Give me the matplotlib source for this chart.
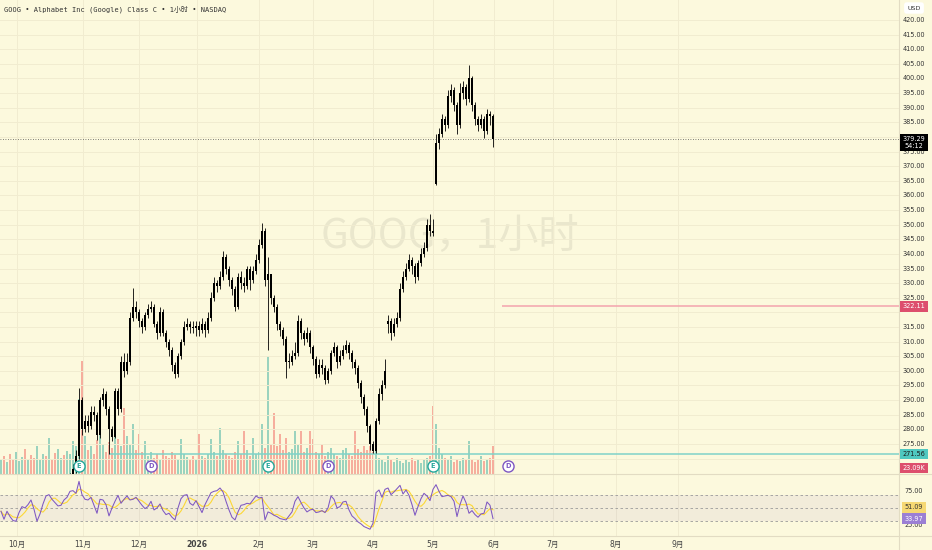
import numpy as np
import pandas as pd
import matplotlib
matplotlib.use("Agg")
import matplotlib.pyplot as plt
import matplotlib.transforms as mtransforms
from matplotlib.lines import Line2D

plt.rcParams['font.family'] = ['DejaVu Sans', 'Noto Sans CJK SC']

# GOOG 1h chart, resampled to ~one candle per trading day
closes = [
    246, 244, 247, 245, 243, 246, 249, 252, 250, 253,
    251, 248, 250, 253, 256, 252, 255, 254, 251, 255,
    259, 257, 260, 263, 266.5, 271, 290, 280, 283, 281,
    286, 285, 278, 290, 292, 287, 280, 277.5, 293, 287,
    303, 300, 303, 318, 322, 320, 317, 315, 319, 321,
    322, 316, 313, 320, 313, 310, 307, 302, 299, 305,
    310, 315, 316, 315, 314.5, 315.5, 314, 316, 314, 318,
    325, 330, 329, 332, 339, 335, 331, 328, 322, 332,
    330, 329, 335, 331, 334, 338, 343, 348, 331, 333,
    325, 322, 316, 314, 311, 303, 303, 305, 306, 317,
    313, 311, 313, 308, 304, 299, 302, 301, 297, 300,
    306, 308, 303, 305, 307, 309, 306, 303, 301, 296,
    291, 287, 281, 275, 272.5, 283, 292, 295, 300, 317,
    313, 316, 318, 328, 332, 335, 338, 336, 332, 337,
    340, 342, 350, 348, 347, 378, 381, 386, 384, 394,
    396, 391, 384, 395, 397, 393, 400, 391, 386, 384,
    386, 382, 388, 387, 379.29]

highs = [
    248, 247, 249, 248, 246, 247, 250, 253, 253, 255,
    254, 252, 251, 254, 257, 257, 256, 257, 255, 256,
    260, 261, 262, 265, 268, 273, 294, 291, 285, 285,
    288, 288, 286, 291, 294, 293, 288, 281, 294, 294,
    305, 306, 306, 320, 328.5, 324, 321, 318, 320, 323,
    324, 323, 317, 322, 321, 314, 311, 308, 303, 306,
    311, 317, 318, 317, 317, 317, 317, 318, 317, 320,
    327, 332, 331, 334, 341, 340, 336, 332, 329, 333.5,
    334, 332, 336, 336, 336, 340, 345, 350.5, 349, 339,
    329, 326, 323, 317, 315, 312, 306, 307, 310, 319,
    318, 314, 315, 314, 309, 305, 304, 304, 302, 301,
    307, 310, 309, 307, 309, 310.5, 310, 307, 304, 302,
    297, 292, 288, 282, 276, 284, 294, 297, 304, 319,
    318, 318, 320, 330, 334, 337, 340, 339, 337, 338,
    342, 344, 352, 353.5, 352, 381, 383, 388, 387, 396,
    398, 397, 392, 398.5, 399, 398, 404.5, 401, 392, 387,
    388, 387, 389.5, 389, 388]

lows = [
    244, 242, 243, 244, 241, 242, 245, 248, 249, 249,
    250, 247, 246, 249, 252, 251, 251, 253, 250, 250,
    254, 256, 256, 259, 262, 265, 270, 278, 279, 279,
    280, 283, 276.5, 277, 288, 285, 271.56, 276, 277, 285,
    286, 298, 299, 302, 317, 318, 315, 313, 314, 318,
    320, 315, 311, 312, 312, 308, 305, 300, 297.5, 298,
    304, 309, 314, 313, 313, 312, 312, 313, 311.5, 313,
    317, 324, 327, 328, 331, 333, 329, 326, 320.5, 321,
    328, 327, 328, 327.5, 330, 333, 337, 342, 329, 307,
    323, 320, 314, 312, 309, 297.5, 301, 302, 304, 305,
    311, 309, 310, 306, 302, 297.5, 298, 299, 295.5, 296,
    299, 305, 301, 302, 304, 306, 304, 301, 299, 294,
    289, 285, 279, 273, 271.8, 272, 282, 290, 294, 313,
    310.5, 312, 315, 317, 327, 331, 334, 333, 330, 331,
    336, 339, 341, 346, 346, 363.5, 376, 380, 382, 383,
    392, 389, 381, 383, 393, 391, 392, 389, 384, 382,
    383, 379.5, 381, 384, 376.6]

# opening gaps (otherwise a candle opens at the previous close)
gap_opens = {129: 316, 145: 364}

volumes_k = [
    1400, 1800, 1200, 2000, 1500, 2200, 1300, 1700, 2500, 1400,
    1900, 1600, 2800, 1400, 2000, 1800, 3600, 1500, 2100, 2500,
    1600, 1900, 2300, 2000, 3300, 2800, 7500, 11300, 3800, 2400,
    2800, 2000, 3400, 4000, 3000, 2200, 3200, 2600, 4300, 3500,
    2800, 6600, 3800, 3000, 5000, 2400, 4000, 2200, 3300, 1800,
    2200, 1600, 2000, 1400, 2400, 1800, 1600, 2200, 1900, 1500,
    3500, 2000, 1700, 1500, 1800, 1400, 4000, 1800, 1600, 2000,
    3500, 2200, 1800, 4600, 2400, 2000, 1800, 1600, 2200, 3300,
    2000, 4300, 2400, 1800, 3600, 2000, 2200, 5000, 2600, 11800,
    3000, 6100, 2800, 4000, 2400, 3600, 2200, 2500, 4300, 3000,
    4300, 2200, 2600, 4300, 3500, 2200, 2000, 3000, 1800, 2200,
    2600, 2000, 1800, 1600, 2400, 2600, 2000, 1800, 4300, 2500,
    2200, 2800, 2400, 2800, 2200, 2600, 1600, 1400, 1200, 1800,
    1400, 1200, 1600, 1300, 1100, 1400, 1200, 1600, 1300, 1500,
    1100, 1400, 1600, 1800, 6800, 5000, 2600, 2000, 1600, 1400,
    1800, 1200, 1500, 1300, 1600, 1400, 3300, 1500, 1200, 1400,
    1800, 1300, 1500, 1600, 2800]

rsi = [
    45, 33, 45, 37, 31, 30, 43, 52, 50, 55,
    62, 48, 30, 41, 56, 68, 70, 63, 58, 53,
    54, 62, 66, 75, 76, 72, 90, 70, 63, 62,
    66, 54, 42, 63, 62, 55, 38, 50, 60, 69,
    57, 63, 68, 62, 63, 66, 60, 54, 49, 52,
    60, 47, 50, 56, 46, 40, 42, 36, 32, 50,
    64, 69, 70, 57, 54, 61, 52, 43, 55, 64,
    73, 75, 76, 80, 74, 60, 47, 36, 32, 44,
    54, 55, 57, 56, 62, 68, 65, 66, 32, 44,
    42, 39, 37, 34, 33, 32, 38, 44, 60, 67,
    58, 50, 44, 47, 48, 43, 44, 46, 43, 50,
    68, 63, 50, 52, 59, 60, 47, 38, 34, 29,
    26, 22, 20, 18, 27, 73, 77, 66, 78, 80,
    70, 74, 79, 84, 71, 77, 69, 55, 39, 52,
    64, 72, 68, 61, 78, 85, 75, 67, 68, 69,
    67, 60, 37, 55, 68, 58, 42, 46, 40, 36,
    41, 42, 59, 54, 33.97]
rsi_ma_last = 51.09

month_labels = ['10月', '11月', '12月', '2026', '2月', '3月', '4月', '5月', '6月', '7月', '8月', '9月']
month_pos = [5.3, 27.3, 46, 65.3, 86, 104, 124, 144, 164.3, 184, 205, 225.7]

earnings_bars = [26, 89, 144]
dividend_bars = [50, 109, 169]

resist_level, resist_from = 322.11, 167
support_level, support_from = 271.56, 36
last_volume_label = '23.09K'
countdown = '54:12'

BG = '#fcf9dd'
GRID = '#f1ecd0'
EDGE = '#e2dcc3'
UP = '#26a69a'
DOWN = '#ef5350'
PURPLE = '#7e57c2'

W, H = 932, 550


def rect(x0, y0, x1, y1):
    return [x0 / W, 1 - y1 / H, (x1 - x0) / W, (y1 - y0) / H]


fig = plt.figure(figsize=(W / 100, H / 100), dpi=100, facecolor=BG)
vax = fig.add_axes(rect(0, 0, 899, 473.5))
ax = fig.add_axes(rect(0, 0, 899, 473.5), sharex=vax)
rax = fig.add_axes(rect(0, 474.5, 899, 536), sharex=vax)
ax.set_zorder(2)
ax.patch.set_visible(False)
vax.set_facecolor(BG)
rax.set_facecolor(BG)

n = len(closes)
x = np.arange(n)
c = np.array(closes, dtype=float)
o = np.r_[c[0], c[:-1]]
for k, v in gap_opens.items():
    o[k] = v
up = c >= o

# volume
vax.bar(x, volumes_k, width=0.6, color=np.where(up, UP, DOWN), alpha=0.45, linewidth=0)
vax.set_ylim(0, 47350)

# candles
ax.vlines(x, lows, highs, color='black', lw=0.6, zorder=3)
ax.bar(x, np.maximum(np.abs(c - o), 0.4), bottom=np.minimum(o, c), width=0.5,
       color='black', linewidth=0, zorder=3)

ax.set_xlim(-1 / 3, 899 / 3 - 1 / 3)
ax.set_ylim(264.9, 426.84)
price_ticks = np.arange(270, 421, 5)
ax.set_yticks(price_ticks)
ax.set_xticks(month_pos)
ax.grid(True, color=GRID, lw=0.7, zorder=0)
ax.set_axisbelow(True)
for a in (ax, vax, rax):
    a.tick_params(left=False, right=False, top=False, bottom=False,
                  labelleft=False, labelbottom=False)
    for s in a.spines.values():
        s.set_visible(False)

# watermark and title
ax.text(450 / 899, 1 - 236 / 473.5, 'GOOG，1小时', transform=ax.transAxes,
        fontsize=29, family=['Noto Sans CJK SC'], color='black', alpha=0.07,
        ha='center', va='center', zorder=0)
ax.text(4 / 899, 1 - 9 / 473.5, 'GOOG • Alphabet Inc (Google) Class C • 1小时 • NASDAQ',
        transform=ax.transAxes, fontsize=5, family=['DejaVu Sans Mono', 'Noto Sans CJK SC'],
        color='#333333', va='center')

# horizontal levels
ax.axhline(c[-1], color='#555555', lw=0.6, ls=(0, (1, 2)), zorder=2)
ax.hlines(resist_level, resist_from, 300, color='#f4a3ae', lw=1.1, zorder=2)
ax.hlines(support_level, support_from, 300, color='#7fd3c9', lw=1.1, zorder=2)

# earnings / dividend badges
bt = mtransforms.blended_transform_factory(ax.transData, ax.transAxes)
by = 1 - 466 / 473.5
for b in earnings_bars:
    ax.plot(b, by, 'o', transform=bt, ms=8, mfc='white', mec=UP, mew=1, zorder=6, clip_on=False)
    ax.text(b, by, 'E', transform=bt, fontsize=4.8, color=UP, weight='bold',
            ha='center', va='center', zorder=7)
for b in dividend_bars:
    ax.plot(b, by, 'o', transform=bt, ms=8, mfc='white', mec=PURPLE, mew=1, zorder=6, clip_on=False)
    ax.text(b, by, 'D', transform=bt, fontsize=4.8, color=PURPLE, weight='bold',
            ha='center', va='center', zorder=7)

# right price scale (labels hidden behind the tags are skipped)
tr = mtransforms.blended_transform_factory(ax.transAxes, ax.transData)
lx = 914 / 899
tagged = [c[-1], resist_level, support_level]
for p in price_ticks:
    if min(abs(p - t) for t in tagged) < 2.5:
        continue
    ax.text(lx, p, f'{p:.2f}', transform=tr, ha='center', va='center',
            fontsize=4.7, color='#333333', zorder=3)
ax.text(lx, 1 - 8 / 473.5, 'USD', transform=ax.transAxes, ha='center', va='center',
        fontsize=4.6, color='#333333', zorder=5,
        bbox=dict(boxstyle='round,pad=0.5,rounding_size=0.4', fc='white', ec='none'))


def tag(a, y, text, fc, tc, trans, dy=0):
    a.annotate(text, xy=(lx, y), xycoords=trans, xytext=(0, dy), textcoords='offset points',
               ha='center', va='center', fontsize=4.7, color=tc, zorder=8,
               linespacing=1.15, annotation_clip=False,
               bbox=dict(boxstyle='square,pad=0.35', fc=fc, ec='none'))


tag(ax, c[-1], f'{c[-1]:.2f}\n{countdown}', 'black', 'white', tr, dy=-2.6)
tag(ax, resist_level, f'{resist_level:.2f}', '#dd4f6d', 'white', tr)
tag(ax, support_level, f'{support_level:.2f}', '#4fc8c0', '#1b1b1b', tr)
tag(ax, 1 - 468 / 473.5, last_volume_label, '#dd4f6d', 'white', ax.transAxes)

# RSI pane
rsi_arr = np.array(rsi, dtype=float)
rsi_ma = pd.Series(rsi_arr).rolling(4, min_periods=1).mean()
rax.set_ylim(7.8, 100.3)
rax.axhspan(30, 70, color=PURPLE, alpha=0.08, lw=0)
for lvl in (70, 50, 30):
    rax.axhline(lvl, color='#9a9a9a', lw=0.6, ls=(0, (3, 3)))
rax.plot(x, rsi_ma, color='#fdd835', lw=0.8)
rax.plot(x, rsi_arr, color=PURPLE, lw=0.75)
rax.grid(True, axis='x', color=GRID, lw=0.7)
rax.set_axisbelow(True)
rax.tick_params(labelbottom=True, length=0, pad=3, labelsize=5.5, labelcolor='#444444')
rax.set_xticks(month_pos)
rax.set_xticklabels(month_labels)
rax.get_xticklabels()[3].set_fontweight('bold')

rtr = mtransforms.blended_transform_factory(rax.transAxes, rax.transData)
for lvl in (75, 25):
    rax.text(lx, lvl, f'{lvl:.2f}', transform=rtr, ha='center', va='center',
             fontsize=4.7, color='#333333')
tag(rax, rsi_ma_last, f'{rsi_ma_last:.2f}', '#f6d873', '#333333', rtr)
tag(rax, rsi_arr[-1], f'{rsi_arr[-1]:.2f}', '#9b7fd4', 'white', rtr)

# pane separators
for yy in (473.8, 536):
    fig.add_artist(Line2D([0, 1], [1 - yy / H] * 2, transform=fig.transFigure, color=EDGE, lw=0.8))
fig.add_artist(Line2D([899 / W] * 2, [0, 1], transform=fig.transFigure, color=EDGE, lw=0.8))

fig.savefig('out.png', dpi=100, facecolor=BG)
